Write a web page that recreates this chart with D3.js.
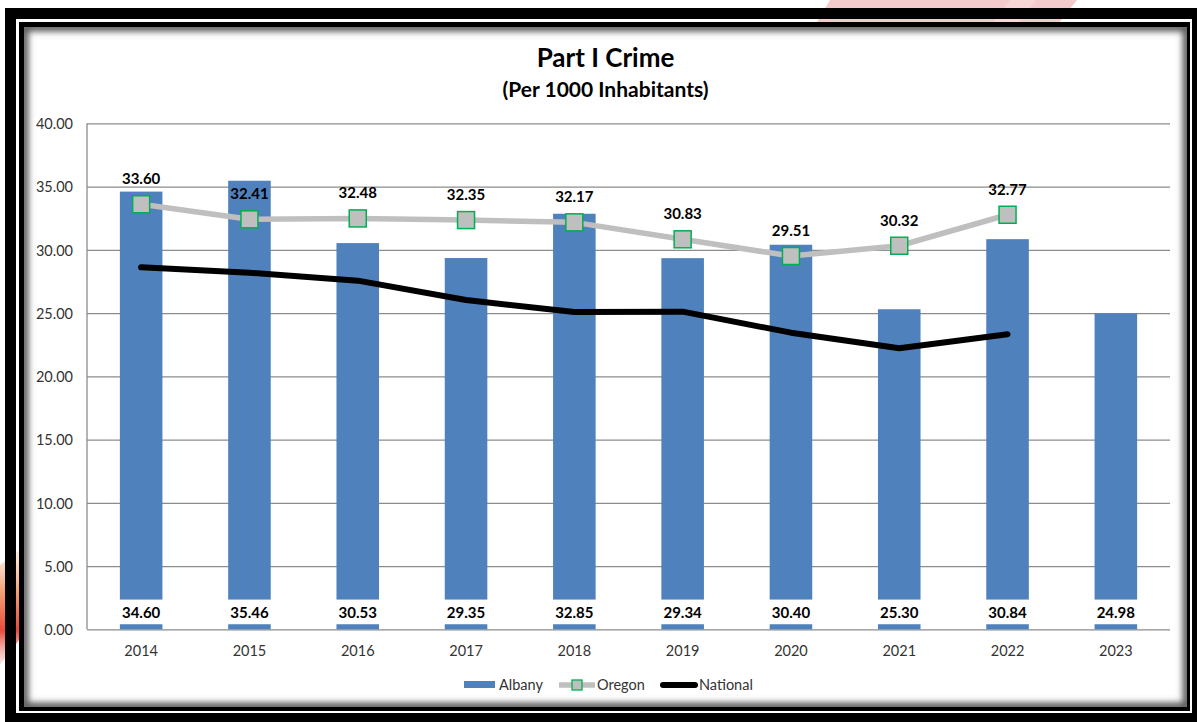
<!DOCTYPE html>
<html>
<head>
<meta charset="utf-8">
<script src="https://cdn.jsdelivr.net/npm/d3@7"></script>
<style>
  html, body { margin: 0; padding: 0; background: #fff; }
  svg { display: block; }
  text { font-family: Lato, "Open Sans", sans-serif; }
</style>
</head>
<body>
<svg id="chart" width="1198" height="722"></svg>
<script>
// Part I crime rates per 1000 inhabitants
const years = ["2014", "2015", "2016", "2017", "2018", "2019", "2020", "2021", "2022", "2023"];
const albany = [34.60, 35.46, 30.53, 29.35, 32.85, 29.34, 30.40, 25.30, 30.84, 24.98];
const oregon = [33.60, 32.41, 32.48, 32.35, 32.17, 30.83, 29.51, 30.32, 32.77, null];
const national = [28.62, 28.19, 27.56, 26.03, 25.08, 25.11, 23.45, 22.21, 23.32, null];
const yTicks = [0, 5, 10, 15, 20, 25, 30, 35, 40];
const legendItems = ["Albany", "Oregon", "National"];
const titleText = "Part I Crime";
const subtitleText = "(Per 1000 Inhabitants)";

const W = 1198, H = 722;
const svg = d3.select("#chart");
const defs = svg.append("defs");

// ---- backdrop shapes peeking around the frame ----
svg.append("rect").attr("width", W).attr("height", H).attr("fill", "#fff");
svg.append("path")
  .attr("d", "M830,0 L1077,0 L1058,24 L816,24 Z")
  .attr("fill", "#f4caca");
svg.append("path")
  .attr("d", "M1010,0 L1036,0 L1018,24 L992,24 Z")
  .attr("fill", "#f7d6d6");
const lg = defs.append("linearGradient").attr("id", "sideGrad")
  .attr("x1", 0).attr("y1", 0).attr("x2", 0).attr("y2", 1);
lg.append("stop").attr("offset", "0%").attr("stop-color", "#fbe3d2").attr("stop-opacity", 0.6);
lg.append("stop").attr("offset", "35%").attr("stop-color", "#f6a27a");
lg.append("stop").attr("offset", "70%").attr("stop-color", "#e84a3c");
lg.append("stop").attr("offset", "100%").attr("stop-color", "#f3b0a8").attr("stop-opacity", 0.3);
svg.append("path")
  .attr("d", "M0,565 L19,550 L19,640 L0,665 Z")
  .attr("fill", "url(#sideGrad)");

// ---- double black frame ----
function ring(x0, y0, x1, y1, ix0, iy0, ix1, iy1) {
  return `M${x0},${y0}H${x1}V${y1}H${x0}Z M${ix0},${iy0}V${iy1}H${ix1}V${iy0}Z`;
}
svg.append("path").attr("d", ring(5, 8, 1197, 722, 16, 19, 1192, 713)).attr("fill", "#000");
svg.append("path").attr("d", ring(19, 22, 1190, 711, 24, 27, 1187, 707)).attr("fill", "#000");

// inner chart area with a soft inner shadow
const inner = { x: 24, y: 27, w: 1163, h: 680 };
defs.append("clipPath").attr("id", "innerClip")
  .append("rect").attr("x", inner.x).attr("y", inner.y).attr("width", inner.w).attr("height", inner.h);
defs.append("filter").attr("id", "soft").attr("x", "-5%").attr("y", "-5%").attr("width", "110%").attr("height", "110%")
  .append("feGaussianBlur").attr("stdDeviation", 3.2);
svg.append("rect").attr("x", inner.x).attr("y", inner.y).attr("width", inner.w).attr("height", inner.h).attr("fill", "#fff");
svg.append("g").attr("clip-path", "url(#innerClip)")
  .append("rect")
  .attr("x", inner.x).attr("y", inner.y).attr("width", inner.w).attr("height", inner.h)
  .attr("fill", "none").attr("stroke", "#5a5a5a").attr("stroke-width", 9)
  .attr("filter", "url(#soft)");

// ---- titles ----
const cx = inner.x + inner.w / 2;
svg.append("text").attr("x", cx).attr("y", 67).attr("text-anchor", "middle")
  .attr("font-size", 26).attr("font-weight", 700).attr("fill", "#000").text(titleText);
svg.append("text").attr("x", cx).attr("y", 96.5).attr("text-anchor", "middle")
  .attr("font-size", 21).attr("font-weight", 700).attr("fill", "#000").text(subtitleText);

// ---- scales ----
const plot = { left: 87, right: 1170, top: 123.3, bottom: 629.3 };
const x = d3.scaleBand().domain(years).range([plot.left, plot.right])
  .paddingInner(0.607).paddingOuter(0.3035);
const y = d3.scaleLinear().domain([0, 40]).range([plot.bottom, plot.top]);
const xc = d => x(d) + x.bandwidth() / 2;

// ---- gridlines and y axis ----
const yAxis = svg.append("g").attr("transform", `translate(${plot.left},0)`)
  .call(d3.axisLeft(y).tickValues(yTicks).tickFormat(d3.format(".2f"))
    .tickSize(-(plot.right - plot.left)).tickPadding(14));
yAxis.select(".domain").remove();
yAxis.selectAll(".tick line").attr("stroke", "#8c8c8c").attr("stroke-width", 1.3);
yAxis.selectAll(".tick text").attr("font-size", 14.5).attr("fill", "#333")
  .attr("font-family", "Lato, sans-serif").attr("dy", "0.36em");
svg.append("line").attr("x1", plot.left).attr("x2", plot.left)
  .attr("y1", plot.top).attr("y2", plot.bottom)
  .attr("stroke", "#8c8c8c").attr("stroke-width", 1.3);

// ---- x axis labels ----
const xAxis = svg.append("g").attr("transform", `translate(0,${plot.bottom})`)
  .call(d3.axisBottom(x).tickSize(0).tickPadding(0));
xAxis.select(".domain").remove();
xAxis.selectAll(".tick text").attr("font-size", 14.5).attr("fill", "#333")
  .attr("font-family", "Lato, sans-serif").attr("dy", null).attr("y", 27);

// ---- Albany bars ----
const barColor = "#4f81bd";
svg.append("g").selectAll("rect").data(albany).join("rect")
  .attr("x", (d, i) => x(years[i])).attr("width", x.bandwidth())
  .attr("y", d => y(d)).attr("height", d => y(0) - y(d))
  .attr("fill", barColor);

// bar value labels near the base, on white boxes
const baseLabels = svg.append("g");
baseLabels.selectAll("rect").data(albany).join("rect")
  .attr("x", (d, i) => xc(years[i]) - 27).attr("width", 54)
  .attr("y", y(2.35)).attr("height", y(0.4) - y(2.35))
  .attr("fill", "#fff");
baseLabels.selectAll("text").data(albany).join("text")
  .attr("x", (d, i) => xc(years[i])).attr("y", 618)
  .attr("text-anchor", "middle").attr("font-size", 15).attr("font-weight", 700)
  .attr("fill", "#000").text(d => d.toFixed(2));

// ---- National line ----
const nationalPts = national.map((v, i) => [years[i], v]).filter(p => p[1] != null);
svg.append("path").datum(nationalPts)
  .attr("d", d3.line().x(p => xc(p[0])).y(p => y(p[1])))
  .attr("fill", "none").attr("stroke", "#000").attr("stroke-width", 6)
  .attr("stroke-linecap", "round").attr("stroke-linejoin", "round");

// ---- Oregon line with square markers ----
const oregonPts = oregon.map((v, i) => [years[i], v]).filter(p => p[1] != null);
svg.append("path").datum(oregonPts)
  .attr("d", d3.line().x(p => xc(p[0])).y(p => y(p[1])))
  .attr("fill", "none").attr("stroke", "#bfbfbf").attr("stroke-width", 5.5)
  .attr("stroke-linejoin", "round");
const mk = 17;
svg.append("g").selectAll("rect").data(oregonPts).join("rect")
  .attr("x", p => xc(p[0]) - mk / 2).attr("y", p => y(p[1]) - mk / 2)
  .attr("width", mk).attr("height", mk)
  .attr("fill", "#bfbfbf").attr("stroke", "#00b050").attr("stroke-width", 1.5);
svg.append("g").selectAll("text").data(oregonPts).join("text")
  .attr("x", p => xc(p[0])).attr("y", p => y(p[1]) - 20)
  .attr("text-anchor", "middle").attr("font-size", 15).attr("font-weight", 700)
  .attr("fill", "#000").text(p => p[1].toFixed(2));

// ---- legend ----
const legY = 685;
const leg = svg.append("g");
leg.append("rect").attr("x", 464).attr("y", legY - 4).attr("width", 31).attr("height", 7).attr("fill", barColor);
leg.append("line").attr("x1", 559).attr("x2", 595).attr("y1", legY).attr("y2", legY)
  .attr("stroke", "#bfbfbf").attr("stroke-width", 5.5);
leg.append("rect").attr("x", 577 - 5).attr("y", legY - 5).attr("width", 10).attr("height", 10)
  .attr("fill", "#bfbfbf").attr("stroke", "#00b050").attr("stroke-width", 1.3);
leg.append("line").attr("x1", 663).attr("x2", 695).attr("y1", legY).attr("y2", legY)
  .attr("stroke", "#000").attr("stroke-width", 6).attr("stroke-linecap", "round");
const legX = [499, 597, 699];
leg.selectAll("text").data(legendItems).join("text")
  .attr("x", (d, i) => legX[i]).attr("y", legY + 5)
  .attr("font-size", 14.5).attr("fill", "#333").text(d => d);
</script>
</body>
</html>
